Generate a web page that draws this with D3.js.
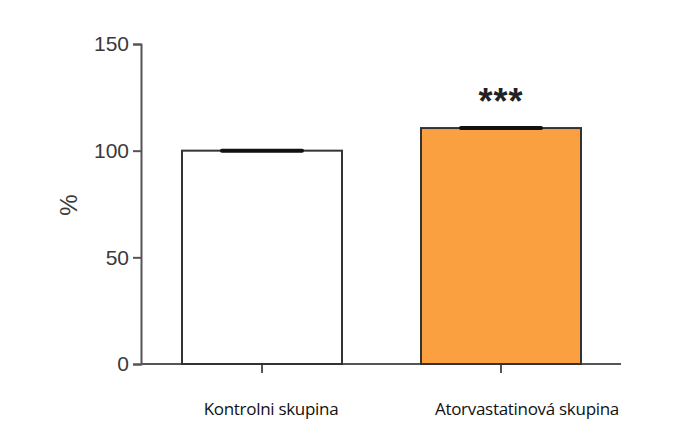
<!DOCTYPE html>
<html><head><meta charset="utf-8">
<script src="https://cdn.jsdelivr.net/npm/d3@7"></script>
<style>body{margin:0;background:#fff}</style>
</head><body>
<svg id="c" width="674" height="439"></svg>
<script>
const categories = ['Kontrolni skupina', 'Atorvastatinová skupina'];
const values = [100, 110.6];
const colors = ['#ffffff', '#fba040'];
const marks = ['', '***'];
const yTicks = [0, 50, 100, 150];

const svg = d3.select('#c');
const x = d3.scalePoint().domain(categories).range([262, 501]);
const y = d3.scaleLinear().domain([0, 150]).range([364, 44]);
const barW = 160;
const labelShift = [9, 26];

// axes
const gy = svg.append('g').attr('transform', 'translate(141,0)')
  .call(d3.axisLeft(y).tickValues(yTicks).tickSize(8).tickPadding(4));
gy.select('.domain').attr('stroke', '#555').attr('stroke-width', 2);
gy.selectAll('line').attr('stroke', '#555').attr('stroke-width', 2);
gy.selectAll('text').attr('font-family', 'Liberation Sans, Arial').attr('font-size', 21).attr('fill', '#3a3a3a');

const gx = svg.append('g').attr('transform', 'translate(0,364)');
gx.append('line').attr('x1', 141).attr('x2', 621).attr('stroke', '#555').attr('stroke-width', 2);
gx.selectAll('.t').data(categories).join('line')
  .attr('x1', d => x(d)).attr('x2', d => x(d)).attr('y1', 0).attr('y2', 9)
  .attr('stroke', '#555').attr('stroke-width', 2);
gx.selectAll('text').data(categories).join('text')
  .attr('x', (d, i) => x(d) + labelShift[i]).attr('y', 51).attr('text-anchor', 'middle')
  .attr('font-family', 'Open Sans, sans-serif').attr('font-size', 17).attr('fill', '#111')
  .attr('letter-spacing', -0.3)
  .text(d => d);

// bars
svg.selectAll('.bar').data(categories).join('rect')
  .attr('x', d => x(d) - barW / 2).attr('width', barW)
  .attr('y', (d, i) => y(values[i])).attr('height', (d, i) => y(0) - y(values[i]))
  .attr('fill', (d, i) => colors[i]).attr('stroke', '#333').attr('stroke-width', 2);

// error caps
svg.selectAll('.err').data(categories).join('line')
  .attr('x1', d => x(d) - 40).attr('x2', d => x(d) + 40)
  .attr('y1', (d, i) => y(values[i])).attr('y2', (d, i) => y(values[i]))
  .attr('stroke', '#111').attr('stroke-width', 4).attr('stroke-linecap', 'round');

svg.selectAll('.mk').data(categories).join('text')
  .attr('x', d => x(d)).attr('y', (d, i) => y(values[i]) - 14).attr('text-anchor', 'middle')
  .attr('font-family', 'Liberation Sans, Arial').attr('font-size', 36).attr('font-weight', 'bold').attr('fill', '#222')
  .attr('letter-spacing', 1)
  .text((d, i) => marks[i]);

svg.append('text').attr('transform', 'translate(77,205) rotate(-90)').attr('text-anchor', 'middle')
  .attr('font-family', 'Liberation Sans, Arial').attr('font-size', 24).attr('fill', '#3a3a3a').text('%');
</script>
</body></html>
